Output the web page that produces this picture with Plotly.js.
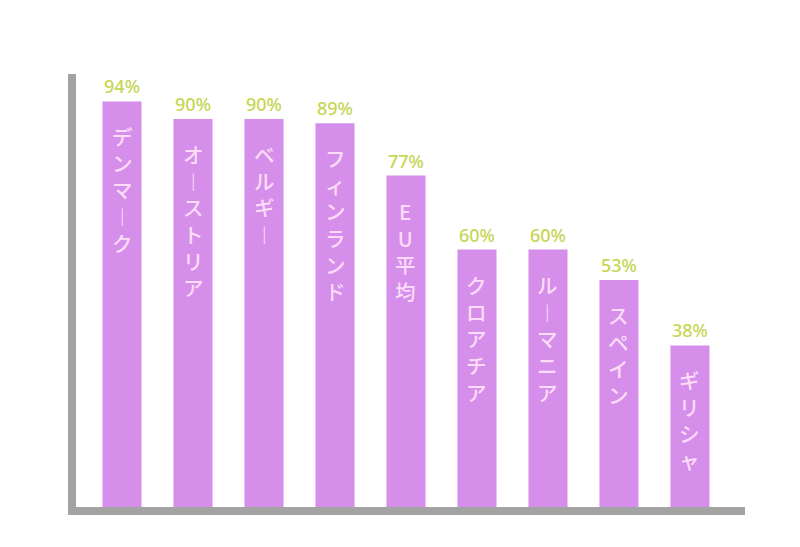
<!DOCTYPE html>
<html>
<head>
<meta charset="utf-8">
<script src="https://cdn.plot.ly/plotly-3.0.1.min.js"></script>
<style>
  body { margin: 0; background: #fff; }
  #chart { width: 800px; height: 547px; }
</style>
</head>
<body>
<div id="chart"></div>
<script>
// countries, share (%)
const countries = ['デンマーク', 'オーストリア', 'ベルギー', 'フィンランド', 'EU平均', 'クロアチア', 'ルーマニア', 'スペイン', 'ギリシャ'];
const shares = [94, 90, 90, 89, 77, 60, 60, 53, 38];

const barColor = '#d58fea';
const labelColor = '#c6d654';
const nameColor = '#fcdcf8';

// stack the names vertically, long vowel mark turned upright
function verticalText(s) {
    return Array.from(s).map(c => c === 'ー' ? '︱' : c).join('<br>');
}

const trace = {
    x: countries,
    y: shares,
    type: 'bar',
    width: 0.55,
    marker: { color: barColor },
    text: shares.map(v => v + '%'),
    textposition: 'outside',
    cliponaxis: false,
    textfont: { family: 'Noto Sans, sans-serif', size: 18, weight: 500, color: labelColor },
    hoverinfo: 'none'
};

const annotations = countries.map((c, i) => ({
    x: c,
    y: shares[i],
    xref: 'x',
    yref: 'y',
    yanchor: 'top',
    yshift: -18,
    showarrow: false,
    text: verticalText(c),
    font: { family: 'Noto Sans CJK JP, sans-serif', size: 20.5, weight: 500, color: nameColor }
}));

const layout = {
    width: 800,
    height: 547,
    margin: { l: 76, r: 55, t: 74, b: 40 },
    paper_bgcolor: '#ffffff',
    plot_bgcolor: '#ffffff',
    showlegend: false,
    xaxis: {
        range: [-0.648, 8.775],
        showline: true,
        linecolor: '#a3a3a3',
        linewidth: 8,
        showticklabels: false,
        ticks: '',
        showgrid: false,
        zeroline: false
    },
    yaxis: {
        range: [0.918, 100.3],
        showline: true,
        linecolor: '#a3a3a3',
        linewidth: 8,
        showticklabels: false,
        ticks: '',
        showgrid: false,
        zeroline: false
    },
    annotations: annotations
};

Plotly.newPlot('chart', [trace], layout, { displayModeBar: false, staticPlot: true });
</script>
</body>
</html>
